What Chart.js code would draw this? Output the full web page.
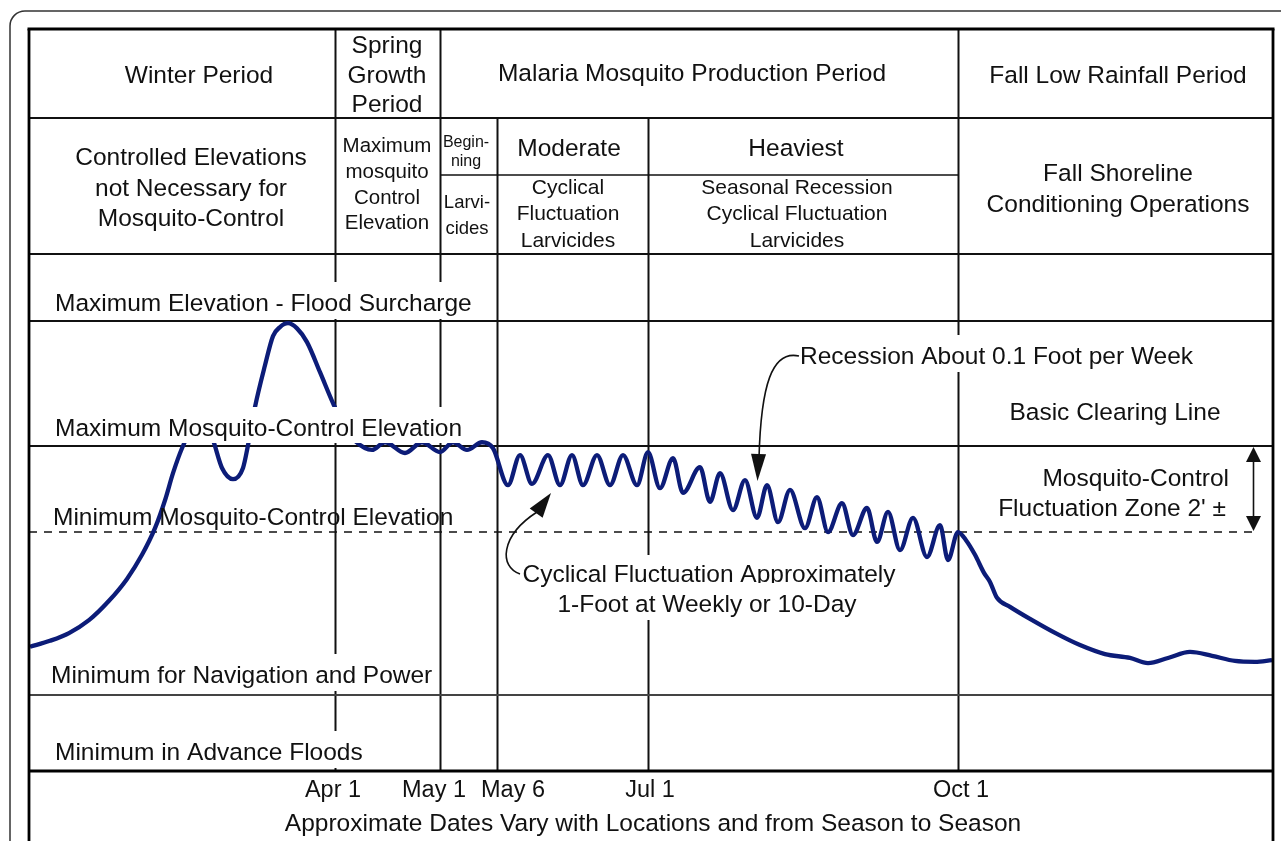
<!DOCTYPE html>
<html>
<head>
<meta charset="utf-8">
<title>Mosquito-control water level schedule</title>
<script src="https://cdn.jsdelivr.net/npm/chart.js@4.4.1/dist/chart.umd.min.js"></script>
<style>
html,body{margin:0;padding:0;background:#ffffff;overflow:hidden;}
#wrap{width:1281px;height:841px;position:relative;}
canvas{display:block;}
</style>
</head>
<body>
<div id="wrap"><canvas id="chart" width="1281" height="841"></canvas></div>
<script>
// ---------- data (x: position along the season, y: feet relative to the minimum mosquito-control elevation) ----------
const seasonX = [0.1,2.1,4.0,6.0,8.0,9.8,11.3,12.6,13.6,14.4,15.3,16.5,17.4,18.4,19.3,20.4,21.4,21.9,22.6,23.6,24.4,25.1,25.9,26.8,27.8,29.1,30.4,31.6,32.6,34.3,35.6,37.6,39.3,41.1,42.4,43.8,45.3,46.4,47.9,49.1,50.3,51.9,53.1,54.3,55.4,56.8,58.1,59.4,60.8,61.9,63.1,64.4,65.4,67.1,68.1,69.1,70.4,71.6,72.8,73.8,74.9,76.1,77.6,78.8,79.9,81.3,82.4,83.8,84.8,85.9,87.1,88.4,89.8,91.1,91.9,92.9,93.7,94.6,95.5,96.1,96.8,98.1,100.1,102.8,105.1,107.6,110.1,111.9,113.9,116.1,118.3,120.6,122.6,124.3];
const stageFt = [-2.67,-2.53,-2.35,-2.05,-1.60,-1.09,-0.53,0.09,0.74,1.37,1.95,2.49,2.65,2.14,1.49,1.23,1.49,2.02,2.91,3.88,4.56,4.77,4.86,4.74,4.42,3.72,3.00,2.42,2.12,1.91,2.09,1.84,2.09,1.86,2.09,1.91,2.09,1.95,1.09,1.79,1.12,1.79,1.09,1.79,1.09,1.79,1.09,1.79,1.09,1.86,1.02,1.72,0.91,1.51,0.70,1.37,0.51,1.21,0.33,1.09,0.23,0.98,0.09,0.81,0,0.67,-0.07,0.56,-0.23,0.47,-0.42,0.33,-0.58,0.16,-0.65,0,-0.19,-0.53,-0.95,-1.16,-1.53,-1.74,-2.02,-2.37,-2.63,-2.84,-2.93,-3.05,-2.93,-2.79,-2.88,-3.00,-3.02,-2.98];
const dateTickValues = [30.6, 41.1, 46.8, 61.9, 92.9];
const dateTickLabels = ['Apr 1', 'May 1', 'May 6', 'Jul 1', 'Oct 1'];
const levelValues = [4.91, 2.0, 0, -3.79, -5.56];
const levelNames = ['Maximum Elevation - Flood Surcharge', 'Maximum Mosquito-Control Elevation', 'Minimum Mosquito-Control Elevation', 'Minimum for Navigation and Power', 'Minimum in Advance Floods'];
const periodNames = [['Winter Period'], ['Spring', 'Growth', 'Period'], ['Malaria Mosquito Production Period'], ['Fall Low Rainfall Period']];
const operationNames = [
  ['Controlled Elevations', 'not Necessary for', 'Mosquito-Control'],
  ['Maximum', 'mosquito', 'Control', 'Elevation'],
  ['Begin-', 'ning'], ['Larvi-', 'cides'],
  ['Moderate'], ['Cyclical', 'Fluctuation', 'Larvicides'],
  ['Heaviest'], ['Seasonal Recession', 'Cyclical Fluctuation', 'Larvicides'],
  ['Fall Shoreline', 'Conditioning Operations']
];
const noteRecession = 'Recession About 0.1 Foot per Week';
const noteClearing = 'Basic Clearing Line';
const noteZone = ['Mosquito-Control', "Fluctuation Zone 2' \u00B1"];
const noteCyclical = ['Cyclical Fluctuation Approximately', '1-Foot at Weekly or 10-Day'];
const axisCaption = 'Approximate Dates Vary with Locations and from Season to Season';

// ---------- drawing helpers ----------
const FONT = '"Liberation Sans", Arial, Helvetica, sans-serif';
const INK = '#111111';
function font(sz) { return sz + 'px ' + FONT; }

function line(ctx, x1, y1, x2, y2, w, color, dash) {
  ctx.save();
  ctx.beginPath();
  ctx.lineWidth = w; ctx.strokeStyle = color || INK;
  ctx.setLineDash(dash || []);
  ctx.moveTo(x1, y1); ctx.lineTo(x2, y2); ctx.stroke();
  ctx.restore();
}
function block(ctx, lines, cx, cy, size, lh) {
  ctx.save();
  ctx.font = font(size); ctx.fillStyle = INK;
  ctx.textAlign = 'center'; ctx.textBaseline = 'middle';
  const start = cy - (lines.length - 1) * lh / 2;
  lines.forEach((t, i) => ctx.fillText(t, cx, start + i * lh + 1));
  ctx.restore();
}
function label(ctx, text, x, yb, o) {
  o = o || {};
  ctx.save();
  ctx.font = font(o.size || 24.5);
  const align = o.align || 'left';
  ctx.textAlign = align; ctx.textBaseline = 'alphabetic';
  const w = ctx.measureText(text).width;
  const left = align === 'center' ? x - w / 2 : align === 'right' ? x - w : x;
  if (o.bg) {
    const top = o.bgTop != null ? o.bgTop : 29;
    ctx.fillStyle = '#ffffff';
    ctx.fillRect(left - 3, yb - top, w + 6, top + (o.bgBottom != null ? o.bgBottom : 8));
  }
  ctx.fillStyle = INK;
  ctx.fillText(text, x, yb);
  ctx.restore();
}
function arrowHead(ctx, tx, ty, fx, fy, len, half) {
  const a = Math.atan2(ty - fy, tx - fx);
  const bx = tx - len * Math.cos(a), by = ty - len * Math.sin(a);
  ctx.beginPath();
  ctx.moveTo(tx, ty);
  ctx.lineTo(bx + half * Math.sin(a), by - half * Math.cos(a));
  ctx.lineTo(bx - half * Math.sin(a), by + half * Math.cos(a));
  ctx.closePath();
  ctx.fill();
}

// ---------- plugins ----------
const gridPlugin = {
  id: 'gridPlugin',
  beforeDatasetsDraw(chart) {
    const { ctx, chartArea: a, scales: { x, y } } = chart;
    dateTickValues.forEach(v => {
      const px = Math.round(x.getPixelForValue(v)) + 0.5;
      line(ctx, px, a.top, px, a.bottom, 2, INK);
    });
    levelValues.forEach((v, i) => {
      const py = Math.round(y.getPixelForValue(v));
      if (i === 2) line(ctx, a.left, py, 1258, py, 1.6, INK, [8, 7]);
      else if (i === 3) line(ctx, a.left, py, a.right, py, 2, '#444');
      else if (i < 2) line(ctx, a.left, py, a.right, py, 2, INK);
    });
  }
};

const overlayPlugin = {
  id: 'overlayPlugin',
  afterDatasetsDraw(chart) {
    const { ctx, chartArea: a, scales: { x, y } } = chart;
    const X = v => Math.round(x.getPixelForValue(v)) + 0.5;
    const Y = v => Math.round(y.getPixelForValue(v));

    const lvlLayout = [
      { dx: 55, dy: -10, bg: true },
      { dx: 55, dy: -10, bg: true, bgBottom: 7 },
      { dx: 53, dy: -7, bg: false },
      { dx: 51, dy: -12, bg: true },
      { dx: 55, dy: -11, bg: true }
    ];
    levelNames.forEach((t, i) => {
      const L = lvlLayout[i];
      label(ctx, t, L.dx, Y(levelValues[i]) + L.dy, { bg: L.bg, bgBottom: L.bgBottom });
    });

    label(ctx, noteRecession, 800, 364, { bg: true });
    label(ctx, noteClearing, 1115, 420, { align: 'center' });
    label(ctx, noteZone[0], 1229, 486, { align: 'right' });
    label(ctx, noteZone[1], 1226, 516, { align: 'right' });
    label(ctx, noteCyclical[0], 709, 582, { align: 'center', bg: true, bgTop: 27 });
    label(ctx, noteCyclical[1], 707, 612, { align: 'center', bg: true });

    ctx.save();
    ctx.strokeStyle = INK; ctx.fillStyle = INK; ctx.lineWidth = 1.6;
    ctx.beginPath();
    ctx.moveTo(799, 356);
    ctx.bezierCurveTo(772, 350, 761, 385, 759, 458);
    ctx.stroke();
    arrowHead(ctx, 757.5, 481, 758.5, 455, 27, 7.5);

    ctx.beginPath();
    ctx.moveTo(520, 574);
    ctx.bezierCurveTo(499, 567, 500, 536, 537, 512);
    ctx.stroke();
    arrowHead(ctx, 551, 493, 537, 512, 25, 8);

    const zx = 1253.5, zTop = Y(levelValues[1]), zBot = Y(levelValues[2]);
    line(ctx, zx, zTop + 10, zx, zBot - 10, 1.6, INK);
    arrowHead(ctx, zx, zTop + 1, zx, zTop + 20, 15, 7.5);
    arrowHead(ctx, zx, zBot - 1, zx, zBot - 20, 15, 7.5);
    ctx.restore();

    // header table
    const hTop = 29, hMid = 118, hSub = 175, hBot = a.top;
    const c = dateTickValues.map(X);
    line(ctx, a.left, hMid, a.right, hMid, 2, INK);
    line(ctx, a.left, hBot, a.right, hBot, 2, INK);
    [c[0], c[1], c[4]].forEach(px => line(ctx, px, hTop, px, hBot, 2, INK));
    [c[2], c[3]].forEach(px => line(ctx, px, hMid, px, hBot, 2, INK));
    line(ctx, c[1], hSub, c[4], hSub, 1.6, INK);

    block(ctx, periodNames[0], 199, 75, 24.5, 30);
    block(ctx, periodNames[1], 387, 75, 24.5, 29.5);
    block(ctx, periodNames[2], 692, 73, 24.5, 30);
    block(ctx, periodNames[3], 1118, 75, 24.5, 30);

    block(ctx, operationNames[0], 191, 188, 24.5, 30.5);
    block(ctx, operationNames[1], 387, 184, 20.5, 25.7);
    block(ctx, operationNames[2], 466, 151, 16, 19);
    block(ctx, operationNames[3], 467, 215, 18.5, 26);
    block(ctx, operationNames[4], 569, 148, 24.5, 30);
    block(ctx, operationNames[5], 568, 213.5, 21, 26.5);
    block(ctx, operationNames[6], 796, 148, 24.5, 30);
    block(ctx, operationNames[7], 797, 213.5, 21, 26.5);
    block(ctx, operationNames[8], 1118, 188.5, 24.5, 31);

    // date labels and caption
    const tickShift = [-2, -6, 16, 2, 3];
    dateTickLabels.forEach((t, i) => {
      label(ctx, t, x.getPixelForValue(dateTickValues[i]) + tickShift[i], 797, { align: 'center', size: 23.5 });
    });
    label(ctx, axisCaption, 653, 831, { align: 'center', size: 24.5 });

    // frame
    line(ctx, a.left, a.bottom, a.right, a.bottom, 3.2, '#000');
    line(ctx, a.left - 1.5, hTop, a.right + 1.5, hTop, 3.2, '#000');
    line(ctx, a.left, hTop, a.left, chart.height, 2.8, '#000');
    line(ctx, a.right, hTop, a.right, chart.height, 2.8, '#000');

    ctx.save();
    ctx.strokeStyle = '#333'; ctx.lineWidth = 1.5;
    const l = 10, t = 11, r = 1295, b = 870, rad = 15;
    ctx.beginPath();
    ctx.moveTo(l + rad, t);
    ctx.lineTo(r - rad, t);
    ctx.arcTo(r, t, r, t + rad, rad);
    ctx.lineTo(r, b);
    ctx.lineTo(l, b);
    ctx.lineTo(l, t + rad);
    ctx.arcTo(l, t, l + rad, t, rad);
    ctx.stroke();
    ctx.restore();
  }
};

new Chart(document.getElementById('chart'), {
  type: 'line',
  data: {
    datasets: [{
      data: seasonX.map((v, i) => ({ x: v, y: stageFt[i] })),
      borderColor: '#0c1c78',
      borderWidth: 4.3,
      pointRadius: 0,
      cubicInterpolationMode: 'monotone',
      fill: false
    }]
  },
  options: {
    responsive: false,
    animation: false,
    devicePixelRatio: 1,
    events: [],
    layout: { padding: { left: 29, top: 254, right: 8, bottom: 70 } },
    scales: {
      x: { type: 'linear', min: 0, max: 124.4, display: false },
      y: { type: 'linear', min: -5.56, max: 6.47, display: false }
    },
    plugins: { legend: { display: false }, tooltip: { enabled: false } }
  },
  plugins: [gridPlugin, overlayPlugin]
});
</script>
</body>
</html>
